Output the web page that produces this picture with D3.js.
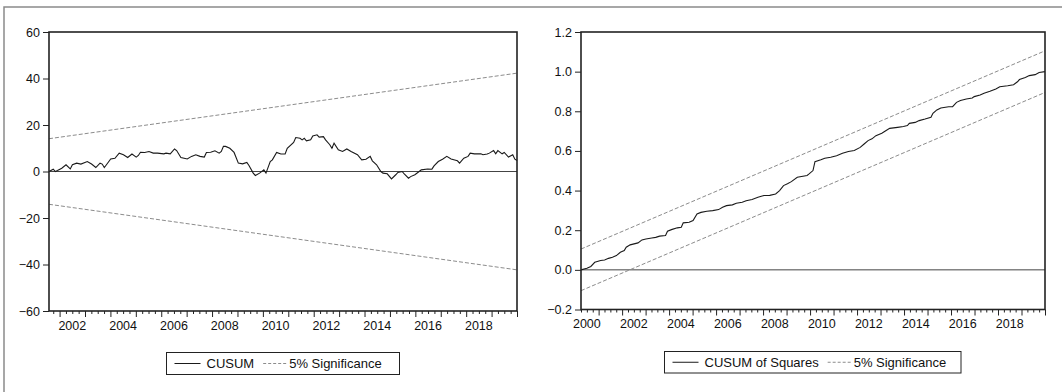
<!DOCTYPE html>
<html>
<head>
<meta charset="utf-8">
<script src="https://cdn.jsdelivr.net/npm/d3@7"></script>
<style>
  body { margin: 0; background: #fff; }
  text { font-family: "Liberation Sans", Arial, sans-serif; fill: #111; }
</style>
</head>
<body>
<div id="chart"></div>
<script>
// CUSUM (left panel), monthly, 2001M08 - 2019M12
const cusumFirst = "2001-08";
const cusumLast = "2019-12";
const cusumDates = [
  "2001-08","2001-10","2001-11","2001-12","2002-02","2002-04","2002-06","2002-07","2002-09","2002-11",
  "2003-02","2003-04","2003-06","2003-08","2003-09","2003-10","2003-11","2004-01","2004-03","2004-05",
  "2004-07","2004-09","2004-11","2005-01","2005-02","2005-03","2005-05","2005-07","2005-09","2005-11",
  "2006-02","2006-03","2006-05","2006-07","2006-08","2006-10","2007-01","2007-03","2007-05","2007-07",
  "2007-09","2007-10","2007-12","2008-02","2008-04","2008-05","2008-06","2008-07","2008-09","2008-11",
  "2009-01","2009-03","2009-05","2009-06","2009-08","2009-09","2009-11","2010-01","2010-02","2010-04",
  "2010-05","2010-07","2010-09","2010-11","2010-12","2011-03","2011-04","2011-06","2011-07","2011-08",
  "2011-09","2011-11","2011-12","2012-02","2012-03","2012-05","2012-06","2012-08","2012-09","2012-10",
  "2012-12","2013-02","2013-04","2013-06","2013-09","2013-11","2014-01","2014-03","2014-04","2014-06",
  "2014-08","2014-09","2014-11","2015-01","2015-03","2015-04","2015-06","2015-07","2015-09","2015-10",
  "2015-12","2016-02","2016-03","2016-06","2016-08","2016-09","2016-11","2017-01","2017-03","2017-05",
  "2017-08","2017-09","2017-11","2018-01","2018-02","2018-04","2018-07","2018-08","2018-10","2018-11",
  "2019-01","2019-02","2019-03","2019-05","2019-06","2019-08","2019-10","2019-11","2019-12"
];
const cusumValues = [
  0.0, 1.0, 0.0, 0.4, 1.4, 2.9, 1.1, 2.9, 3.6, 3.2,
  4.3, 3.2, 1.7, 3.6, 3.2, 1.7, 2.9, 5.4, 5.7, 7.9,
  7.2, 6.0, 7.5, 6.2, 6.9, 8.3, 8.2, 8.6, 7.9, 7.9,
  7.6, 7.9, 7.6, 9.7, 9.0, 6.0, 5.4, 6.5, 7.2, 6.5,
  6.2, 8.2, 8.3, 8.9, 7.9, 8.6, 10.8, 10.8, 10.0, 8.2,
  3.6, 3.3, 3.9, 2.6, -0.7, -1.7, -0.7, 0.7, -0.7, 4.3,
  5.0, 8.2, 7.5, 7.5, 10.0, 12.5, 14.6, 14.3, 13.6, 14.3,
  13.2, 13.6, 15.3, 15.8, 14.8, 15.0, 13.6, 11.5, 10.0, 12.2,
  9.3, 8.6, 9.7, 8.6, 7.2, 5.0, 5.3, 6.5, 4.6, 2.9,
  0.0, -0.7, -1.0, -3.2, -1.4, -0.4, 0.0, -1.0, -2.9, -2.2,
  -1.4, 0.0, 0.7, 1.1, 1.0, 2.4, 4.3, 5.3, 6.5, 5.4,
  4.6, 3.6, 5.7, 6.5, 7.9, 7.6, 7.6, 7.2, 7.5, 7.9,
  9.0, 7.6, 9.0, 7.6, 8.2, 6.2, 7.2, 5.3, 4.7
];
const cusumUpper = [14.1, 42.3];   // at first and last observation
const cusumLower = [-14.1, -42.3];
const cusumYTicks = [-60, -40, -20, 0, 20, 40, 60];
const cusumYearLabels = [2002, 2004, 2006, 2008, 2010, 2012, 2014, 2016, 2018];

// CUSUM of squares (right panel), monthly, 2000M04 - 2019M12
const sqFirst = "2000-04";
const sqLast = "2019-12";
const sqDates = [
  "2000-04","2000-07","2000-09","2000-11","2001-02","2001-04","2001-06","2001-08","2001-10","2001-12",
  "2002-02","2002-03","2002-05","2002-07","2002-09","2002-11","2003-01","2003-04","2003-06","2003-08",
  "2003-11","2003-12","2004-02","2004-05","2004-07","2004-08","2004-11","2005-01","2005-03","2005-05",
  "2005-08","2005-11","2006-02","2006-04","2006-06","2006-09","2006-11","2007-02","2007-04","2007-07",
  "2007-10","2008-01","2008-04","2008-07","2008-09","2008-11","2009-01","2009-03","2009-06","2009-11",
  "2009-12","2010-02","2010-03","2010-06","2010-08","2010-11","2011-02","2011-05","2011-08","2011-11",
  "2012-02","2012-04","2012-06","2012-08","2012-10","2013-01","2013-03","2013-05","2013-09","2013-12",
  "2014-02","2014-03","2014-06","2014-08","2014-11","2015-02","2015-03","2015-05","2015-07","2015-11",
  "2016-01","2016-03","2016-05","2016-08","2016-11","2016-12","2017-03","2017-05","2017-08","2017-11",
  "2018-01","2018-05","2018-08","2018-10","2018-11","2019-02","2019-04","2019-07","2019-09","2019-12"
];
const sqValues = [
  0.000, 0.008, 0.017, 0.038, 0.047, 0.050, 0.058, 0.064, 0.072, 0.089,
  0.097, 0.114, 0.126, 0.131, 0.136, 0.151, 0.156, 0.161, 0.164, 0.170,
  0.173, 0.195, 0.203, 0.212, 0.215, 0.237, 0.240, 0.249, 0.282, 0.290,
  0.296, 0.299, 0.304, 0.316, 0.324, 0.328, 0.336, 0.341, 0.349, 0.355,
  0.366, 0.375, 0.376, 0.383, 0.400, 0.425, 0.434, 0.445, 0.467, 0.476,
  0.484, 0.501, 0.546, 0.555, 0.563, 0.568, 0.576, 0.588, 0.597, 0.602,
  0.618, 0.635, 0.652, 0.661, 0.677, 0.689, 0.702, 0.714, 0.719, 0.723,
  0.728, 0.739, 0.744, 0.753, 0.761, 0.770, 0.790, 0.807, 0.817, 0.823,
  0.823, 0.845, 0.854, 0.862, 0.867, 0.874, 0.882, 0.891, 0.901, 0.913,
  0.924, 0.929, 0.934, 0.949, 0.960, 0.971, 0.980, 0.985, 0.996, 1.000
];
const sqUpper = [0.105, 1.105];
const sqLower = [-0.105, 0.895];
const sqYTicks = [-0.2, 0.0, 0.2, 0.4, 0.6, 0.8, 1.0, 1.2];
const sqYearLabels = [2000, 2002, 2004, 2006, 2008, 2010, 2012, 2014, 2016, 2018];

const W = 1062, H = 392;

const svg = d3.select("#chart").append("svg")
  .attr("width", W)
  .attr("height", H);

// outer frame (top and left edges only are visible)
svg.append("path")
  .attr("d", `M4,${H} L4,7 L${W},7`)
  .attr("fill", "none")
  .attr("stroke", "#8a8a8a")
  .attr("stroke-width", 1.5);

function monthNum(s) {
  const [y, m] = s.split("-").map(Number);
  return y * 12 + (m - 1);
}

function drawPanel(p) {
  const x0 = p.left, x1 = p.right, y0 = p.top, y1 = p.bottom;
  const g = svg.append("g");

  const m0 = monthNum(p.first), m1 = monthNum(p.last);
  // observations spread edge to edge, years measured on [first month start, last month end]
  const xObs = d3.scaleLinear().domain([m0, m1]).range([x0, x1]);
  const xYear = d3.scaleLinear().domain([m0 / 12, (m1 + 1) / 12]).range([x0, x1]);
  const y = d3.scaleLinear().domain(p.yDomain).range([y1, y0]);

  // y axis
  const yAxis = g.append("g")
    .attr("transform", `translate(${x0},0)`)
    .call(d3.axisLeft(y).tickValues(p.yTicks).tickSize(6).tickPadding(3).tickFormat(p.yFormat));
  yAxis.select(".domain").remove();
  yAxis.selectAll("line").attr("stroke", "#222");
  yAxis.selectAll("text")
    .attr("font-size", "12.5px")
    .attr("font-family", "Liberation Sans, Arial, sans-serif")
    .attr("fill", "#111");

  // x axis: year ticks, quarter minor ticks, labels centred on year
  const yr0 = Math.ceil(m0 / 12), yr1 = Math.floor((m1 + 1) / 12);
  const majors = d3.range(yr0, yr1 + 1);
  const minors = d3.range(Math.ceil(m0 / 3), Math.floor((m1 + 1) / 3) + 1)
    .map(q => q / 4)
    .filter(t => t % 1 !== 0);

  const xAxisMajor = g.append("g")
    .attr("transform", `translate(0,${y1})`)
    .call(d3.axisBottom(xYear).tickValues(majors).tickSize(6).tickFormat(""));
  xAxisMajor.select(".domain").remove();
  xAxisMajor.selectAll("line").attr("stroke", "#222");

  const xAxisMinor = g.append("g")
    .attr("transform", `translate(0,${y1})`)
    .call(d3.axisBottom(xYear).tickValues(minors).tickSize(3).tickFormat(""));
  xAxisMinor.select(".domain").remove();
  xAxisMinor.selectAll("line").attr("stroke", "#222");

  g.selectAll("text.year")
    .data(p.yearLabels)
    .enter().append("text")
    .attr("class", "year")
    .attr("x", d => xYear(d + 0.5))
    .attr("y", y1 + 18.5)
    .attr("text-anchor", "middle")
    .attr("font-size", "12.5px")
    .text(d => d);

  // zero line
  g.append("line")
    .attr("x1", x0).attr("x2", x1)
    .attr("y1", y(0)).attr("y2", y(0))
    .attr("stroke", "#444")
    .attr("stroke-width", 1);

  // significance bands
  [p.upper, p.lower].forEach(b => {
    g.append("line")
      .attr("x1", xObs(m0)).attr("y1", y(b[0]))
      .attr("x2", xObs(m1)).attr("y2", y(b[1]))
      .attr("stroke", "#8c8c8c")
      .attr("stroke-width", 1)
      .attr("stroke-dasharray", "4,2");
  });

  // statistic line
  const pts = p.dates.map((d, i) => [monthNum(d), p.values[i]]);
  g.append("path")
    .datum(pts)
    .attr("fill", "none")
    .attr("stroke", "#1a1a1a")
    .attr("stroke-width", 1.1)
    .attr("d", d3.line().x(d => xObs(d[0])).y(d => y(d[1])));

  // plot frame
  g.append("rect")
    .attr("x", x0).attr("y", y0)
    .attr("width", x1 - x0).attr("height", y1 - y0)
    .attr("fill", "none")
    .attr("stroke", "#222")
    .attr("stroke-width", 1.6);

  // legend
  const L = p.legend;
  const lg = g.append("g");
  lg.append("rect")
    .attr("x", L.x).attr("y", L.y)
    .attr("width", L.w).attr("height", L.h)
    .attr("fill", "#fff")
    .attr("stroke", "#222")
    .attr("stroke-width", 1);
  const cy = L.y + L.h / 2;
  lg.append("line")
    .attr("x1", L.x + 8).attr("x2", L.x + 34)
    .attr("y1", cy).attr("y2", cy)
    .attr("stroke", "#1a1a1a");
  const t1 = lg.append("text")
    .attr("x", L.x + 40).attr("y", cy + 4.6)
    .attr("font-size", "13px")
    .text(p.name);
  const tw = t1.node().getComputedTextLength();
  const dx = L.x + 40 + tw + 9;
  lg.append("line")
    .attr("x1", dx).attr("x2", dx + 23)
    .attr("y1", cy).attr("y2", cy)
    .attr("stroke", "#8c8c8c")
    .attr("stroke-dasharray", "3,2");
  lg.append("text")
    .attr("x", dx + 26).attr("y", cy + 4.6)
    .attr("font-size", "13px")
    .text("5% Significance");
}

drawPanel({
  left: 49, right: 517, top: 32, bottom: 311,
  first: cusumFirst, last: cusumLast,
  dates: cusumDates, values: cusumValues,
  upper: cusumUpper, lower: cusumLower,
  yDomain: [-60, 60], yTicks: cusumYTicks, yFormat: d3.format("d"),
  yearLabels: cusumYearLabels,
  name: "CUSUM",
  legend: { x: 166.5, y: 352.5, w: 233, h: 22 }
});

drawPanel({
  left: 581, right: 1045, top: 32, bottom: 309.5,
  first: sqFirst, last: sqLast,
  dates: sqDates, values: sqValues,
  upper: sqUpper, lower: sqLower,
  yDomain: [-0.2, 1.2], yTicks: sqYTicks, yFormat: d3.format(".1f"),
  yearLabels: sqYearLabels,
  name: "CUSUM of Squares",
  legend: { x: 664.5, y: 351.5, w: 296.5, h: 21.5 }
});
</script>
</body>
</html>
